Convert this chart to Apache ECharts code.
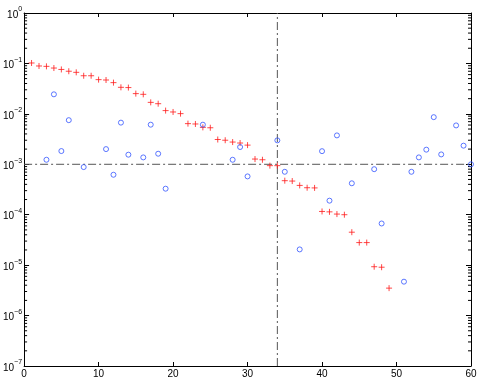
<!DOCTYPE html>
<html>
<head>
<meta charset="utf-8">
<script src="https://cdn.jsdelivr.net/npm/echarts@6/dist/echarts.min.js"></script>
<style>html,body{margin:0;padding:0;background:#fff}#c{width:480px;height:382px}</style>
</head>
<body>
<div id="c"></div>
<script>
var redX = [1,2,3,4,5,6,7,8,9,10,11,12,13,14,15,16,17,18,19,20,21,22,23,24,25,26,27,28,29,30,31,32,33,34,35,36,37,38,39,40,41,42,43,44,45,46,47,48,49];
var redY = [0.102,0.089,0.0875,0.081,0.076,0.070,0.0666,0.057,0.057,0.0477,0.0469,0.0416,0.0336,0.0332,0.0252,0.0244,0.0169,0.0159,0.0116,0.0109,0.0101,0.0064,0.0063,0.0054,0.0053,0.0031,0.0030,0.00276,0.00264,0.0024,0.00127,0.00123,0.00094,0.00094,0.000473,0.000465,0.000381,0.000343,0.00034,1.16e-4,1.14e-4,1.03e-4,1.0e-4,4.5e-5,2.8e-5,2.8e-5,9.3e-6,9.1e-6,3.5e-6];
var blueX = [3,4,5,6,8,11,12,13,14,16,17,18,19,24,28,29,30,34,35,37,40,41,42,44,47,48,51,52,53,54,55,56,58,59,60];
var blueY = [1.23e-3,0.0244,1.83e-3,7.5e-3,8.8e-4,2.0e-3,6.2e-4,6.7e-3,1.55e-3,1.37e-3,6.1e-3,1.62e-3,3.28e-4,6.1e-3,1.23e-3,2.2e-3,5.75e-4,2.98e-3,7.1e-4,2.05e-5,1.82e-3,1.9e-4,3.74e-3,4.2e-4,8.0e-4,6.7e-5,4.7e-6,7.1e-4,1.37e-3,1.95e-3,8.6e-3,1.57e-3,5.9e-3,2.34e-3,1.0e-3];
var refY = 1e-3;
var refX = 34;
var xMin = 0, xMax = 60, yMin = 1e-7, yMax = 1;
var yExps = [-7,-6,-5,-4,-3,-2,-1,0];

var minorVals = [];
yExps.forEach(function(e){ if (e < 0) { for (var m = 2; m <= 9; m++) minorVals.push([xMin, m * Math.pow(10, e)]); } });

var chart = echarts.init(document.getElementById('c'), null, {renderer:'canvas'});
var font = 'Liberation Sans, Arial, sans-serif';
var dashDot = {color:'#555', width:1, type:[8,3,2,3]};
chart.setOption({
  animation:false,
  grid:{left:22, right:9, top:13, bottom:16},
  xAxis:[{
    type:'value', min:xMin, max:xMax, interval:10, position:'bottom',
    axisLine:{onZero:false, lineStyle:{color:'#000', width:1}},
    axisTick:{inside:true, length:4, lineStyle:{color:'#000'}},
    axisLabel:{color:'#000', fontFamily:font, fontSize:10, margin:3},
    splitLine:{show:false}
  },{
    type:'value', min:xMin, max:xMax, interval:10, position:'top',
    axisLine:{onZero:false, lineStyle:{color:'#000', width:1}},
    axisTick:{inside:true, length:4, lineStyle:{color:'#000'}},
    axisLabel:{show:false}, splitLine:{show:false}
  }],
  yAxis:[{
    type:'log', logBase:10, min:yMin, max:yMax, interval:1, position:'left',
    axisLine:{onZero:false, lineStyle:{color:'#000', width:1}},
    axisTick:{inside:true, length:5, lineStyle:{color:'#000'}},
    axisLabel:{margin:2, fontFamily:font, color:'#000',
      formatter:function(v){ var e = Math.round(Math.log10(v)); return '{b|10}{s|' + (e < 0 ? '\u2212' + (-e) : e) + '}'; },
      rich:{b:{fontSize:10, fontFamily:font, color:'#000', verticalAlign:'bottom', lineHeight:14},
            s:{fontSize:7, fontFamily:font, color:'#000', verticalAlign:'top', lineHeight:14}}},
    splitLine:{show:false}
  },{
    type:'log', logBase:10, min:yMin, max:yMax, interval:1, position:'right',
    axisLine:{onZero:false, lineStyle:{color:'#000', width:1}},
    axisTick:{inside:true, length:5, lineStyle:{color:'#000'}},
    axisLabel:{show:false}, splitLine:{show:false}
  }],
  series:[{
    type:'custom', silent:true, clip:false, data:minorVals,
    renderItem:function(params, api){
      var v = api.value(1);
      var l = api.coord([xMin, v]); var r = api.coord([xMax, v]);
      return {type:'group', children:[
        {type:'line', shape:{x1:l[0], y1:l[1], x2:l[0]+3, y2:l[1]}, style:{stroke:'#000', lineWidth:1}},
        {type:'line', shape:{x1:r[0]-3, y1:r[1], x2:r[0], y2:r[1]}, style:{stroke:'#000', lineWidth:1}}
      ]};
    },
    z:1
  },{
    type:'line', silent:true, symbol:'none', data:[[xMin, refY],[xMax, refY]],
    lineStyle:dashDot, z:2
  },{
    type:'line', silent:true, symbol:'none', data:[[refX, yMin],[refX, yMax]],
    lineStyle:dashDot, z:2
  },{
    type:'scatter', name:'red',
    data:redX.map(function(x,i){return [x, redY[i]];}),
    symbol:'path://M0,-5L0,5M-5,0L5,0', symbolSize:6,
    itemStyle:{color:'none', borderColor:'#ff1a1a', borderWidth:1},
    z:3
  },{
    type:'scatter', name:'blue',
    data:blueX.map(function(x,i){return [x, blueY[i]];}),
    symbol:'circle', symbolSize:5,
    itemStyle:{color:'none', borderColor:'#3355ff', borderWidth:1},
    z:3
  }]
});
</script>
</body>
</html>
